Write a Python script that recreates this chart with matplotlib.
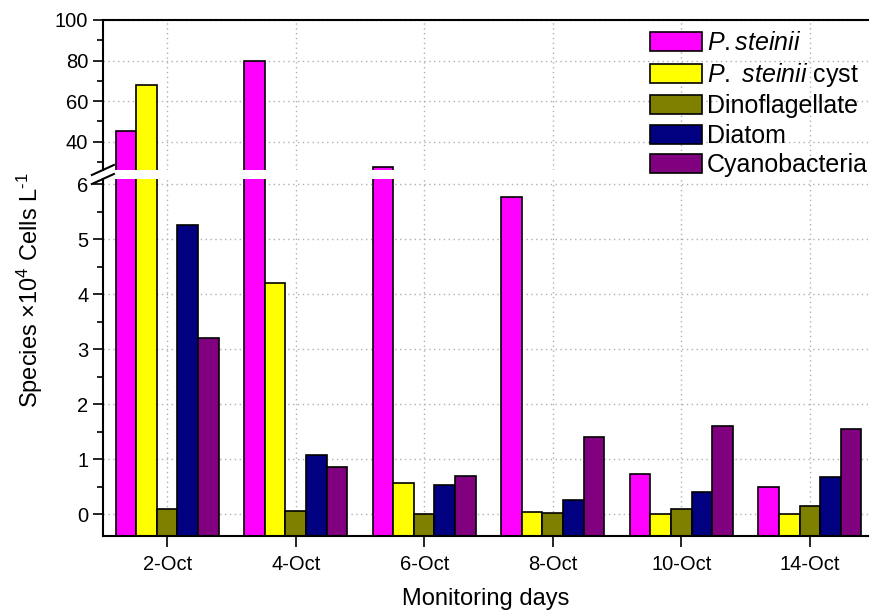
import numpy as np
import matplotlib
matplotlib.use("Agg")
import matplotlib.pyplot as plt
from matplotlib.lines import Line2D

plt.rcParams["font.family"] = ["Liberation Sans", "DejaVu Sans"]
plt.rcParams["mathtext.fontset"] = "custom"
plt.rcParams["mathtext.rm"] = "Liberation Sans"
plt.rcParams["mathtext.it"] = "Liberation Sans:italic"

# -------- Data (x 10^4 cells / L) ----------
dates = ["2-Oct", "4-Oct", "6-Oct", "8-Oct", "10-Oct", "14-Oct"]
p_steinii = [45.4, 80.0, 27.5, 5.77, 0.72, 0.49]
p_steinii_cyst = [68.0, 4.20, 0.57, 0.04, 0.0, 0.0]
dinoflagellate = [0.10, 0.05, 0.0, 0.01, 0.09, 0.15]
diatom = [5.27, 1.07, 0.53, 0.26, 0.40, 0.68]
cyanobacteria = [3.20, 0.85, 0.70, 1.40, 1.61, 1.54]

series = [
    (r"$\it{P.steinii}$", p_steinii, "#FF00FF"),
    (r"$\it{P.\ steinii}$ cyst", p_steinii_cyst, "#FFFF00"),
    ("Dinoflagellate", dinoflagellate, "#808000"),
    ("Diatom", diatom, "#000080"),
    ("Cyanobacteria", cyanobacteria, "#800080"),
]

LOW_LIM = (-0.4, 6.1)
HIGH_LIM = (26, 100)
BAR_W = 0.16

fig = plt.figure(figsize=(8.72, 6.13), dpi=100)
ax_top = fig.add_axes([0.118, 0.7227, 0.877, 0.2447])
ax_bot = fig.add_axes([0.118, 0.1256, 0.877, 0.5824])

x = np.arange(len(dates))
for ax in (ax_top, ax_bot):
    for i, (label, vals, color) in enumerate(series):
        vals = np.asarray(vals, dtype=float)
        ax.bar(x + (i - 2) * BAR_W, vals - LOW_LIM[0], bottom=LOW_LIM[0],
               width=BAR_W, color=color, edgecolor="black", linewidth=1.2,
               label=label)
    ax.set_xlim(-0.5, 5.45)
    ax.set_xticks(x)
    ax.set_axisbelow(True)
    ax.grid(True, linestyle=(0, (1, 2.5)), color="#b0b0b0", linewidth=1.0)
    ax.spines["right"].set_visible(False)
    for s in ax.spines.values():
        s.set_linewidth(1.5)
    ax.tick_params(which="major", direction="out", length=7, width=1.2,
                   labelsize=14.5)
    ax.tick_params(which="minor", direction="out", length=4, width=1.2)

ax_top.set_ylim(*HIGH_LIM)
ax_top.set_yticks([40, 60, 80, 100])
ax_top.set_yticks([30, 50, 70, 90], minor=True)
ax_top.spines["bottom"].set_visible(False)
ax_top.tick_params(axis="x", bottom=False, labelbottom=False)

ax_bot.set_ylim(*LOW_LIM)
ax_bot.set_yticks(range(0, 7))
ax_bot.set_yticks(np.arange(0.5, 6.0, 1.0), minor=True)
ax_bot.spines["top"].set_visible(False)
ax_bot.set_xticklabels(dates)
ax_bot.tick_params(axis="x", length=8, pad=6)

# break marks on the left spine
x0 = ax_bot.get_position().x0
dx, dy = 11 / 872, 5 / 613
for yc in (ax_top.get_position().y0, ax_bot.get_position().y1):
    fig.add_artist(Line2D([x0 - dx, x0 + dx], [yc - dy, yc + dy],
                          color="black", lw=1.5, transform=fig.transFigure))

handles, labels = ax_top.get_legend_handles_labels()
fig.legend(handles, labels, loc="upper left", bbox_to_anchor=(0.745, 0.949),
           frameon=False, fontsize=18,
           handlelength=2.08, handleheight=0.8, handletextpad=0.2,
           labelspacing=0.22, borderpad=0, borderaxespad=0)

ax_bot.set_xlabel("Monitoring days", fontsize=17, labelpad=10)
fig.text(30 / 872, 1 - 290 / 613, r"Species ×10$^4$ Cells L$^{\text{-1}}$",
         rotation=90, ha="center", va="center", fontsize=17)

fig.savefig("out.png", dpi=100)
plt.close(fig)
